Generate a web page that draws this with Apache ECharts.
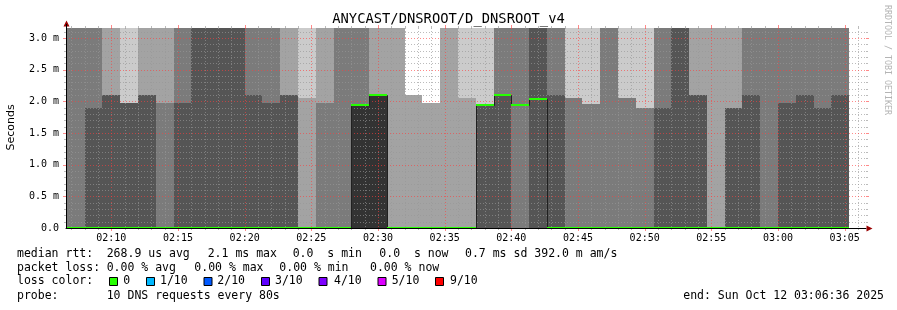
<!DOCTYPE html>
<html>
<head>
<meta charset="utf-8">
<script src="https://cdn.jsdelivr.net/npm/echarts@6/dist/echarts.min.js"></script>
<style>html,body{margin:0;padding:0;background:#fff}#c{width:897px;height:310px}</style>
</head>
<body>
<div id="c"></div>
<script>
// ---------------- data ----------------
const chartTitle = 'ANYCAST/DNSROOT/D_DNSROOT_v4';
const rangeStart = '02:06:36';
const rangeEnd = '03:06:36';
const binStart = ['02:06:36','02:08:00','02:09:20','02:10:40','02:12:00','02:13:20','02:14:40','02:16:00',
  '02:17:20','02:18:40','02:20:00','02:21:20','02:22:40','02:24:00','02:25:20','02:26:40','02:28:00',
  '02:29:20','02:30:40','02:32:00','02:33:20','02:34:40','02:36:00','02:37:20','02:38:40','02:40:00',
  '02:41:20','02:42:40','02:44:00','02:45:20','02:46:40','02:48:00','02:49:20','02:50:40','02:52:00',
  '02:53:20','02:54:40','02:56:00','02:57:20','02:58:40','03:00:00','03:01:20','03:02:40','03:04:00'];
const binEnd = '03:05:20';
// smoke: value (ms) where the lower smoke band ends, and grey shade (0 white .. 5 darkest) of both bands
const smokeSplit = [1.90,1.89,2.10,1.97,2.10,1.97,1.97,2.00,2.00,2.00,2.10,1.97,2.10,2.06,1.97,2.00,1.95,
  2.10,2.10,2.10,1.97,2.06,2.05,1.95,2.10,1.95,2.04,2.10,2.05,1.96,1.97,2.06,1.90,1.90,2.00,2.10,2.00,
  1.90,2.10,2.00,1.97,2.10,1.90,2.10];
const smokeLowerShade = [3,4,4,4,4,3,4,4,4,4,4,4,4,2,3,3,5,5,2,2,2,2,2,4,4,3,4,4,3,3,3,3,3,4,4,4,2,4,4,3,4,4,4,4];
const smokeUpperShade = [3,3,2,1,2,2,3,4,4,4,3,3,2,1,2,3,3,2,2,0,0,2,1,1,3,3,4,3,1,1,3,1,1,3,4,2,2,2,3,3,3,3,3,3];
const medianRtt = [0,0,0,0,0,0,0,0,0,0,0,0,0,0,0,0,1.95,2.10,0,0,0,0,0,1.95,2.10,1.95,2.04,0,0,0,0,0,0,0,0,0,0,0,0,0,0,0,0,0];
const xTickLabels = ['02:10','02:15','02:20','02:25','02:30','02:35','02:40','02:45','02:50','02:55','03:00','03:05'];
const yTickValues = [0,0.5,1.0,1.5,2.0,2.5,3.0];
const shadeColors = ['#ffffff','#cbcbcb','#a3a3a3','#7b7b7b','#555555','#333333'];
const lossLabels = ['0','1/10','2/10','3/10','4/10','5/10','9/10'];
const lossColors = ['#26ff00','#00b8ff','#0059ff','#5e00ff','#7e00ff','#dd00ff','#ff0000'];
const medianStats = ['268.9 us avg','2.1 ms max','0.0  s min','0.0  s now','0.7 ms sd','392.0 m am/s'];
const lossStats = ['0.00 % avg','0.00 % max','0.00 % min','0.00 % now'];
const probeText = '10 DNS requests every 80s';
const endText = 'end: Sun Oct 12 03:06:36 2025';

// ---------------- helpers ----------------
const Y_MAX = 3.158;
const MONO = "'DejaVu Sans Mono', monospace";
const MIN_GRID = 'rgba(150,150,150,0.65)';
const MAJ_GRID = 'rgba(255,60,60,0.6)';
const toMin = s => { const p = s.split(':').map(Number); return (p[0] - 2) * 60 + p[1] + (p[2] || 0) / 60; };
const fmtTime = v => { const t = Math.round(v); const h = 2 + Math.floor(t / 60); const m = t % 60;
  return String(h).padStart(2, '0') + ':' + String(m).padStart(2, '0'); };
const endOf = i => toMin(i + 1 < binStart.length ? binStart[i + 1] : binEnd);

const xMin = toMin(rangeStart), xMax = toMin(rangeEnd);
const smokeData = binStart.map((s, i) => [toMin(s), endOf(i), smokeSplit[i], smokeLowerShade[i], smokeUpperShade[i]]);
const medianData = binStart.map((s, i) => [toMin(s), endOf(i), medianRtt[i], i > 0 ? medianRtt[i - 1] : medianRtt[i]]);

// grid positions (one per minute / per 0.1 ms inside the axis range)
const vGrid = [];
for (let m = Math.ceil(xMin); m <= Math.floor(xMax); m++) vGrid.push([m, 0]);
const hGrid = [];
for (let k = 1; k / 10 <= Y_MAX; k++) hGrid.push([xMin, k / 10]);

const chart = echarts.init(document.getElementById('c'), null, {renderer: 'canvas'});

function renderSmoke(params, api) {
  const x0 = Math.round(api.coord([api.value(0), 0])[0]);
  const x1 = Math.round(api.coord([api.value(1), 0])[0]);
  const yB = api.coord([xMin, 0])[1];
  const yS = Math.round(api.coord([xMin, api.value(2)])[1]);
  const yT = api.coord([xMin, Y_MAX])[1];
  return {type: 'group', children: [
    {type: 'rect', shape: {x: x0, y: yS, width: x1 - x0, height: yB - yS}, style: {fill: shadeColors[api.value(3)]}},
    {type: 'rect', shape: {x: x0, y: yT, width: x1 - x0, height: yS - yT}, style: {fill: shadeColors[api.value(4)]}}
  ]};
}
function renderVGrid(params, api) {
  const v = api.value(0);
  const x = Math.round(api.coord([v, 0])[0]) + 0.5;
  const yB = api.coord([xMin, 0])[1];
  const yT = api.coord([xMin, Y_MAX])[1];
  const major = Math.abs(v % 5) < 1e-6;
  const c = major ? MAJ_GRID : MIN_GRID, t = major ? 3 : 2;
  return {type: 'group', children: [
    {type: 'line', shape: {x1: x, y1: yT, x2: x, y2: yB}, style: {stroke: c, lineWidth: 1, lineDash: [1, 2]}},
    {type: 'line', shape: {x1: x, y1: yT - t, x2: x, y2: yT}, style: {stroke: c, lineWidth: 1}},
    {type: 'line', shape: {x1: x, y1: yB, x2: x, y2: yB + t}, style: {stroke: c, lineWidth: 1}}
  ]};
}
function renderHGrid(params, api) {
  const v = api.value(1);
  const y = Math.round(api.coord([xMin, v])[1]) + 0.5;
  const xL = api.coord([xMin, 0])[0];
  const xR = api.coord([xMax, 0])[0];
  const major = Math.abs(v * 2 - Math.round(v * 2)) < 1e-6;
  const c = major ? MAJ_GRID : MIN_GRID, t = major ? 3 : 2;
  return {type: 'group', children: [
    {type: 'line', shape: {x1: xL, y1: y, x2: xR, y2: y}, style: {stroke: c, lineWidth: 1, lineDash: [1, 2]}},
    {type: 'line', shape: {x1: xL - t, y1: y, x2: xL, y2: y}, style: {stroke: c, lineWidth: 1}},
    {type: 'line', shape: {x1: xR, y1: y, x2: xR + t, y2: y}, style: {stroke: c, lineWidth: 1}}
  ]};
}
function renderMedianLine(params, api) {
  const x0 = Math.round(api.coord([api.value(0), 0])[0]) + 0.5;
  const x1 = Math.round(api.coord([api.value(1), 0])[0]) + 0.5;
  const yC = Math.round(api.coord([xMin, api.value(2)])[1]) + 0.5;
  const yP = Math.round(api.coord([xMin, api.value(3)])[1]) + 0.5;
  return {type: 'polyline', shape: {points: [[x0, yP], [x0, yC], [x1, yC]]},
    style: {stroke: '#202020', lineWidth: 1, fill: null}};
}
function renderMedianLoss(params, api) {
  const x0 = Math.round(api.coord([api.value(0), 0])[0]);
  const x1 = Math.round(api.coord([api.value(1), 0])[0]);
  const yC = Math.round(api.coord([xMin, api.value(2)])[1]);
  return {type: 'rect', shape: {x: x0, y: yC - 1, width: x1 - x0, height: 2}, style: {fill: lossColors[0]}};
}

// legend graphics
const txt = (text, x, y, extra) => Object.assign({type: 'text', x: x, y: y,
  style: {text: text, font: "11.5px 'DejaVu Sans Mono', monospace", fill: '#000', textVerticalAlign: 'middle'}}, extra || {});
const medianX = [106.7, 207.7, 292.7, 379.3, 465, 534.3];
const lossX = [106.7, 194.3, 279.3, 370];
const sqX = [109, 146, 203.5, 261, 318.5, 377.5, 435];
const lblX = [123.3, 160, 217.3, 275, 334, 391.7, 450];
const graphics = [];
graphics.push(txt('median rtt:', 17, 254));
medianStats.forEach((s, i) => graphics.push(txt(s, medianX[i], 254)));
graphics.push(txt('packet loss:', 17, 268));
lossStats.forEach((s, i) => graphics.push(txt(s, lossX[i], 268)));
graphics.push(txt('loss color:', 17, 281.5));
lossLabels.forEach((s, i) => {
  graphics.push({type: 'rect', shape: {x: sqX[i] + 0.5, y: 277.5, width: 8, height: 8},
    style: {fill: lossColors[i], stroke: '#000', lineWidth: 1}});
  graphics.push(txt(s, lblX[i], 281.5));
});
graphics.push(txt('probe:', 17, 296));
graphics.push(txt(probeText, 106.7, 296));
graphics.push(txt(endText, 884, 296, {style: {text: endText, font: "11.5px 'DejaVu Sans Mono', monospace",
  fill: '#000', textVerticalAlign: 'middle', textAlign: 'right'}}));
graphics.push({type: 'text', x: 11, y: 127.5, rotation: Math.PI / 2,
  style: {text: 'Seconds', font: "11px 'DejaVu Sans', sans-serif", fill: '#000', textAlign: 'center', textVerticalAlign: 'middle'}});
graphics.push({type: 'text', x: 887.5, y: 60, rotation: -Math.PI / 2,
  style: {text: 'RRDTOOL / TOBI OETIKER', font: "8.3px 'DejaVu Sans Mono', monospace", fill: '#b4b4b4', textAlign: 'center', textVerticalAlign: 'middle'}});
graphics.push({type: 'polygon', shape: {points: [[63.5, 26.5], [69.5, 26.5], [66.5, 20.5]]}, style: {fill: '#990000'}, z: 20});
graphics.push({type: 'polygon', shape: {points: [[866.5, 225.5], [866.5, 231.5], [872.5, 228.5]]}, style: {fill: '#990000'}, z: 20});
graphics.push({type: 'line', shape: {x1: 66.5, y1: 28, x2: 66.5, y2: 24}, style: {stroke: '#000', lineWidth: 1}, z: 20});

chart.setOption({
  animation: false,
  backgroundColor: '#ffffff',
  title: {text: chartTitle, left: 'center', top: 11, padding: 0,
    textStyle: {fontFamily: MONO, fontSize: 13.8, fontWeight: 'normal', color: '#000', lineHeight: 16}},
  grid: {left: 66, right: 31, top: 28, bottom: 82, containLabel: false},
  xAxis: {type: 'value', min: xMin, max: xMax, z: 10,
    axisLine: {show: true, lineStyle: {color: '#000', width: 1}},
    axisTick: {show: false},
    splitLine: {show: false},
    axisLabel: {customValues: xTickLabels.map(toMin), formatter: v => fmtTime(v), margin: 5,
      fontFamily: MONO, fontSize: 10, color: '#000'}},
  yAxis: {type: 'value', min: 0, max: Y_MAX, interval: 0.5, z: 10,
    axisLine: {show: true, lineStyle: {color: '#000', width: 1}},
    axisTick: {show: false},
    splitLine: {show: false},
    axisLabel: {customValues: yTickValues, margin: 7, fontFamily: MONO, fontSize: 10, color: '#000',
      formatter: v => (Math.abs(v * 2 - Math.round(v * 2)) > 1e-6) ? '' : (v === 0 ? '0.0' : v.toFixed(1) + ' m')}},
  graphic: graphics,
  series: [
    {type: 'custom', name: 'smoke', renderItem: renderSmoke, data: smokeData, encode: {x: [0, 1], y: 2}, z: 1, silent: true},
    {type: 'custom', name: 'vgrid', renderItem: renderVGrid, data: vGrid, encode: {x: 0, y: 1}, z: 3, silent: true},
    {type: 'custom', name: 'hgrid', renderItem: renderHGrid, data: hGrid, encode: {x: 0, y: 1}, z: 3, silent: true},
    {type: 'custom', name: 'median', renderItem: renderMedianLine, data: medianData, encode: {x: [0, 1], y: 2}, z: 4, silent: true},
    {type: 'custom', name: 'median loss 0', renderItem: renderMedianLoss, data: medianData, encode: {x: [0, 1], y: 2}, z: 5, silent: true}
  ]
});
</script>
</body>
</html>
